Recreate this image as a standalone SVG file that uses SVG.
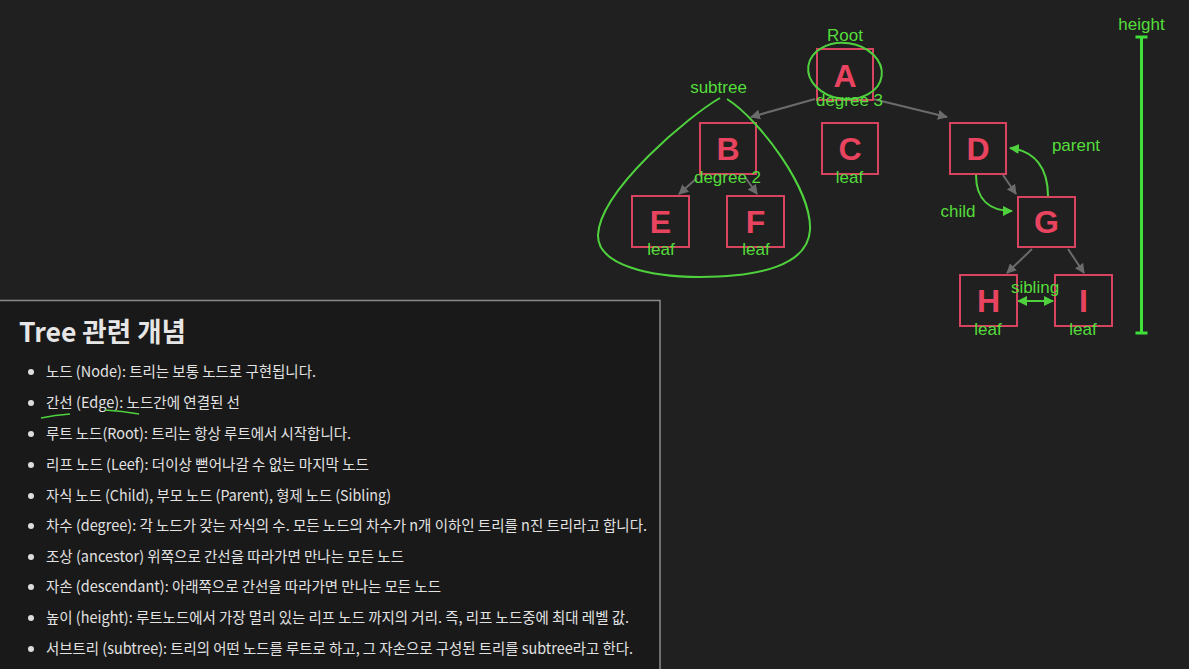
<svg xmlns="http://www.w3.org/2000/svg" width="1189" height="669" viewBox="0 0 1189 669">
<style>
.node rect{fill:#202020;stroke:#d8435f;stroke-width:2}
.node text{font-family:"Liberation Sans",Arial,sans-serif;font-weight:bold;font-size:32px;fill:#e8445f;text-anchor:middle}
.lbl{font-family:"Liberation Sans",Arial,sans-serif;font-size:17px;fill:#55dd3c;text-anchor:middle}
.edge{stroke:#6b6b6b;stroke-width:2;fill:none;marker-end:url(#ag)}
.gc{stroke:#4fd13e;stroke-width:2;fill:none}
.item{font-family:"Noto Sans CJK KR","Noto Sans",sans-serif;font-size:15px;fill:#e2e2e2}
</style>
<defs>
<marker id="ag" viewBox="0 0 10 10" refX="9" refY="5" markerWidth="5" markerHeight="5" orient="auto" markerUnits="strokeWidth"><path d="M0,0 L10,5 L0,10 z" fill="#6b6b6b"/></marker>
<marker id="gr" viewBox="0 0 10 10" refX="9" refY="5" markerWidth="5" markerHeight="5" orient="auto-start-reverse" markerUnits="strokeWidth"><path d="M0,0 L10,5 L0,10 z" fill="#4fd13e"/></marker>
</defs>
<rect x="0" y="0" width="1189" height="669" fill="#202020"/>

<g id="connectors">
<path class="edge" d="M815,99 L751,117"/>
<path class="edge" d="M873,99 L947,117"/>
<path class="edge" d="M697,178 L679,194"/>
<path class="edge" d="M745,177 L757,194"/>
<path class="edge" d="M1003,175 L1016,194"/>
<path class="edge" d="M1032,249 L1007,273"/>
<path class="edge" d="M1068,249 L1084,273"/>
<path class="gc" marker-end="url(#gr)" d="M976,175 C976,200 990,211 1012,211"/>
<path class="gc" marker-end="url(#gr)" d="M1048,196 C1048,168 1035,151 1010,148"/>
<path class="gc" marker-start="url(#gr)" marker-end="url(#gr)" d="M1018,301 L1053,301"/>
</g>

<g id="node-A" class="node"><rect x="817" y="49" width="56" height="51"/><text x="845" y="87">A</text></g>
<g id="node-B" class="node"><rect x="700" y="123" width="56" height="51"/><text x="728" y="160">B</text></g>
<g id="node-C" class="node"><rect x="822" y="123" width="56" height="51"/><text x="850" y="160">C</text></g>
<g id="node-D" class="node"><rect x="950" y="123" width="56" height="51"/><text x="978" y="160">D</text></g>
<g id="node-E" class="node"><rect x="632" y="196" width="57" height="51"/><text x="660.5" y="233">E</text></g>
<g id="node-F" class="node"><rect x="727" y="196" width="57" height="51"/><text x="755.5" y="233">F</text></g>
<g id="node-G" class="node"><rect x="1018" y="197" width="57" height="50"/><text x="1046.5" y="233">G</text></g>
<g id="node-H" class="node"><rect x="960" y="275" width="57" height="51"/><text x="988.5" y="312">H</text></g>
<g id="node-I" class="node"><rect x="1055" y="275" width="57" height="51"/><text x="1083.5" y="312">I</text></g>

<g id="annotations">
<ellipse class="gc" cx="845" cy="71" rx="37" ry="28" transform="rotate(8 845 71)"/>
<path class="gc" d="M720,98 C690,115 600,190 598,235 C597,265 650,277 700,277 C760,277 808,265 810,230 C812,190 760,120 727,99"/>
<line x1="1141.5" y1="37" x2="1141.5" y2="333" stroke="#3fe03a" stroke-width="3"/>
<line x1="1135.5" y1="37" x2="1147.5" y2="37" stroke="#3fe03a" stroke-width="3"/>
<line x1="1135.5" y1="333" x2="1147.5" y2="333" stroke="#3fe03a" stroke-width="3"/>
</g>

<g id="labels">
<text class="lbl" x="845" y="41">Root</text>
<text class="lbl" x="849.5" y="106">degree 3</text>
<text class="lbl" x="718.5" y="93">subtree</text>
<text class="lbl" x="727.5" y="183">degree 2</text>
<text class="lbl" x="849.5" y="183">leaf</text>
<text class="lbl" x="661" y="255">leaf</text>
<text class="lbl" x="756" y="255">leaf</text>
<text class="lbl" x="988" y="335">leaf</text>
<text class="lbl" x="1083" y="335">leaf</text>
<text class="lbl" x="1035" y="293">sibling</text>
<text class="lbl" x="1076" y="151">parent</text>
<text class="lbl" x="958" y="217">child</text>
<text class="lbl" x="1141.5" y="30">height</text>
</g>

<g id="panel">
<rect x="-2" y="300.5" width="662" height="372" fill="#191919" stroke="#8a8a8a" stroke-width="1.5"/>
<text x="19" y="342" font-family="Noto Sans CJK KR,Noto Sans,sans-serif" font-weight="bold" font-size="27" fill="#e6e6e6" textLength="167" lengthAdjust="spacingAndGlyphs">Tree 관련 개념</text>
<g fill="#dddddd">
<circle cx="31" cy="372" r="3"/><circle cx="31" cy="403" r="3"/><circle cx="31" cy="434" r="3"/><circle cx="31" cy="465" r="3"/><circle cx="31" cy="496" r="3"/>
<circle cx="31" cy="526" r="3"/><circle cx="31" cy="557" r="3"/><circle cx="31" cy="587" r="3"/><circle cx="31" cy="618" r="3"/><circle cx="31" cy="649" r="3"/>
</g>
<text class="item" x="46" y="377" textLength="270" lengthAdjust="spacingAndGlyphs">노드 (Node): 트리는 보통 노드로 구현됩니다.</text>
<text class="item" x="46" y="408" textLength="194" lengthAdjust="spacingAndGlyphs">간선 (Edge): 노드간에 연결된 선</text>
<text class="item" x="46" y="439" textLength="305" lengthAdjust="spacingAndGlyphs">루트 노드(Root): 트리는 항상 루트에서 시작합니다.</text>
<text class="item" x="46" y="470" textLength="323" lengthAdjust="spacingAndGlyphs">리프 노드 (Leef): 더이상 뻗어나갈 수 없는 마지막 노드</text>
<text class="item" x="46" y="501" textLength="345" lengthAdjust="spacingAndGlyphs">자식 노드 (Child), 부모 노드 (Parent), 형제 노드 (Sibling)</text>
<text class="item" x="46" y="531" textLength="601" lengthAdjust="spacingAndGlyphs">차수 (degree): 각 노드가 갖는 자식의 수. 모든 노드의 차수가 n개 이하인 트리를 n진 트리라고 합니다.</text>
<text class="item" x="46" y="562" textLength="358" lengthAdjust="spacingAndGlyphs">조상 (ancestor) 위쪽으로 간선을 따라가면 만나는 모든 노드</text>
<text class="item" x="46" y="592" textLength="395" lengthAdjust="spacingAndGlyphs">자손 (descendant): 아래쪽으로 간선을 따라가면 만나는 모든 노드</text>
<text class="item" x="46" y="623" textLength="583" lengthAdjust="spacingAndGlyphs">높이 (height): 루트노드에서 가장 멀리 있는 리프 노드 까지의 거리. 즉, 리프 노드중에 최대 레벨 값.</text>
<text class="item" x="46" y="654" textLength="587" lengthAdjust="spacingAndGlyphs">서브트리 (subtree): 트리의 어떤 노드를 루트로 하고, 그 자손으로 구성된 트리를 subtree라고 한다.</text>
<path d="M41,418 Q55,415 70,414" stroke="#4fd13e" stroke-width="1.5" fill="none"/>
<path d="M105,410 Q122,411 139,414" stroke="#4fd13e" stroke-width="1.5" fill="none"/>
</g>
</svg>
